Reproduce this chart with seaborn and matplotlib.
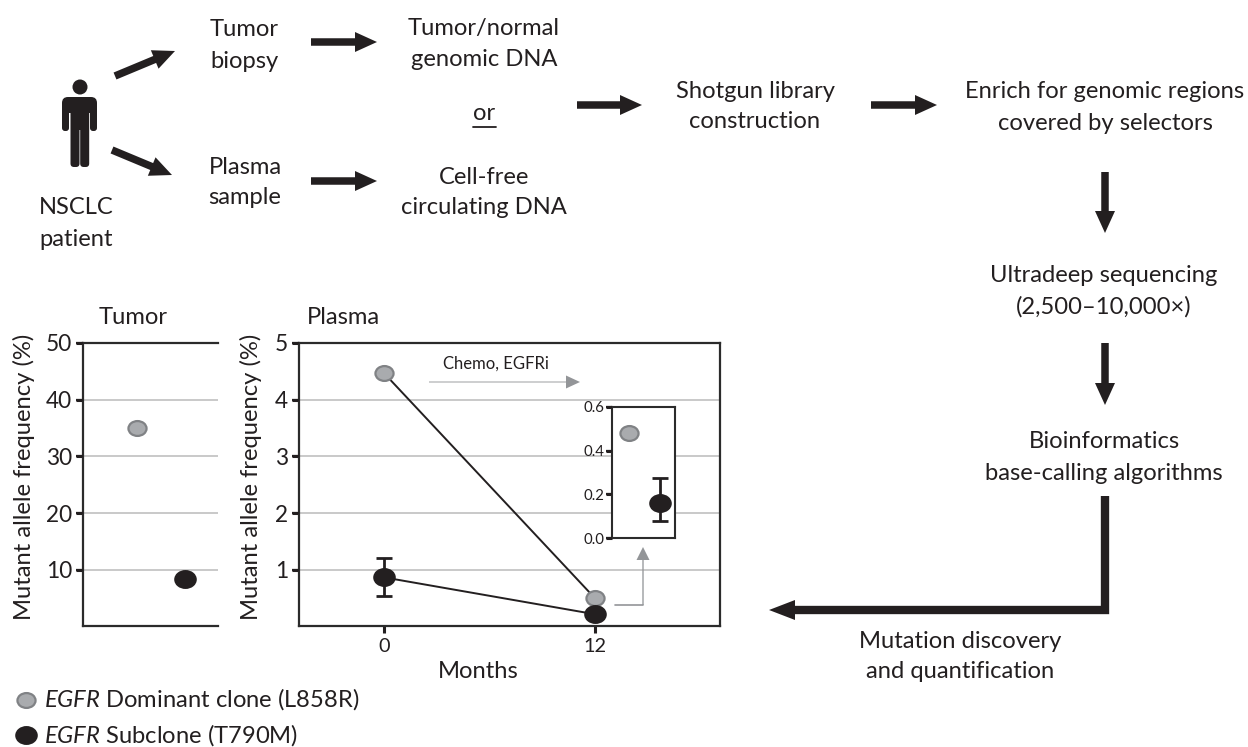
import matplotlib
matplotlib.use("Agg")
import matplotlib.pyplot as plt
import numpy as np
import pandas as pd
import seaborn as sns
from matplotlib.patches import Circle, FancyBboxPatch
from matplotlib.path import Path
from matplotlib.transforms import Affine2D

W, H = 1248, 747
DARK = "#231f20"
GREY_FILL = "#a9abae"
GREY_EDGE = "#808285"
GRID = "#c9c9c9"
ARROW_GREY = "#939598"

clones = ["Dominant", "Subclone"]

tumor_pos = [0, 1]
tumor_freq = [35.1, 8.4]

months = [0, 12]
plasma_dominant = [4.47, 0.5]
plasma_subclone = [0.87, 0.22]
plasma_sub_low = [0.55]
plasma_sub_high = [1.22]

inset_pos = [0, 1]
inset_freq = [0.48, 0.16]
inset_sub_low = [0.08]
inset_sub_high = [0.275]

sns.set_theme(style="ticks")
plt.rcParams["font.family"] = ["Lato", "DejaVu Sans"]
plt.rcParams["mathtext.fontset"] = "custom"
plt.rcParams["mathtext.it"] = "Lato:italic"
plt.rcParams["mathtext.rm"] = "Lato"
plt.rcParams["text.color"] = DARK
plt.rcParams["axes.labelcolor"] = DARK
plt.rcParams["xtick.color"] = DARK
plt.rcParams["ytick.color"] = DARK

FS = 17.1
TICK_FS = 16.3
ELLIPSE = Path.unit_circle().transformed(Affine2D().scale(1.0, 0.82))


def px_axes(fig, left, top, right, bottom):
    return fig.add_axes([left / W, 1 - bottom / H, (right - left) / W, (bottom - top) / H])


def dots(ax, x, y, color, edge, size):
    df = pd.DataFrame({"x": x, "y": y})
    sns.scatterplot(data=df, x="x", y="y", ax=ax, color=color, edgecolor=edge,
                    linewidth=1.6, s=size, marker=ELLIPSE, zorder=5, legend=False, clip_on=False)


def style_axes(ax, lw=1.6, ticklen=5, fontsize=TICK_FS):
    for s in ax.spines.values():
        s.set_color("#2b2b2b")
        s.set_linewidth(lw)
    ax.tick_params(axis="both", length=ticklen, width=2.2, labelsize=fontsize, pad=3, color=DARK)
    ax.set_xlabel("")


def left_ticks(ax, px):
    # tick stubs on the left spine, tied to the axis' own y scale
    frac = px / (ax.get_position().width * W)
    for v in ax.get_yticks():
        ax.plot([-frac, 0], [v, v], transform=ax.get_yaxis_transform(), color=DARK,
                lw=1.6, clip_on=False, zorder=6, solid_capstyle="butt")


fig = plt.figure(figsize=(W / 100, H / 100), dpi=100)

# tumor panel
ax1 = px_axes(fig, 83, 343, 218, 626)
ax1.set_xlim(-1.125, 1.69)
ax1.set_ylim(0.13, 50)
for v in [10, 20, 30, 40]:
    ax1.axhline(v, color=GRID, lw=1.4, zorder=1)
dots(ax1, tumor_pos[:1], tumor_freq[:1], GREY_FILL, GREY_EDGE, 170)
dots(ax1, tumor_pos[1:], tumor_freq[1:], DARK, DARK, 215)
ax1.set_yticks([10, 20, 30, 40, 50])
ax1.set_xticks([])
style_axes(ax1)
ax1.spines["right"].set_visible(False)
ax1.set_ylabel("Mutant allele frequency (%)", fontsize=FS)
ax1.yaxis.set_label_coords(-0.355, 0.527)
left_ticks(ax1, 7)

# plasma panel
ax2 = px_axes(fig, 299, 343, 720, 626)
ax2.set_xlim(-4.83, 19.1)
ax2.set_ylim(0.013, 5)
for v in [1, 2, 3, 4]:
    ax2.axhline(v, color=GRID, lw=1.4, zorder=1)
plasma = pd.DataFrame({"month": months * 2,
                       "freq": plasma_dominant + plasma_subclone,
                       "clone": np.repeat(clones, 2)})
sns.lineplot(data=plasma, x="month", y="freq", units="clone", estimator=None,
             color=DARK, lw=1.4, ax=ax2, zorder=3, legend=False)
ax2.errorbar(months[:1], plasma_subclone[:1],
             yerr=[[plasma_subclone[0] - plasma_sub_low[0]], [plasma_sub_high[0] - plasma_subclone[0]]],
             color=DARK, lw=2, capsize=5.5, capthick=2, zorder=4, fmt="none")
dots(ax2, months, plasma_dominant, GREY_FILL, GREY_EDGE, 170)
dots(ax2, months, plasma_subclone, DARK, DARK, 215)
ax2.set_yticks([1, 2, 3, 4, 5])
ax2.set_xticks(months)
style_axes(ax2)
ax2.tick_params(axis="x", labelsize=14.3, pad=4, length=5)
ax2.set_ylabel("Mutant allele frequency (%)", fontsize=FS)
ax2.yaxis.set_label_coords(-0.088, 0.527)
left_ticks(ax2, 7)

# overlay in pixel coordinates for the flow chart
ov = fig.add_axes([0, 0, 1, 1], zorder=10)
ov.set_xlim(0, W)
ov.set_ylim(H, 0)
ov.axis("off")
ov.patch.set_alpha(0)


def arrow(x0, y0, x1, y1, width=7.5, hw=20, hl=22, color="#231f20"):
    ov.arrow(x0, y0, x1 - x0, y1 - y0, width=width, head_width=hw, head_length=hl,
             length_includes_head=True, color=color, lw=0)


labels = [
    (244, 29, "Tumor"), (244, 61, "biopsy"),
    (245, 168, "Plasma"), (245, 198, "sample"),
    (76, 208, "NSCLC"), (76, 239, "patient"),
    (484, 29, "Tumor/normal"), (484, 59, "genomic DNA"),
    (484, 114, "or"),
    (484, 177, "Cell-free"), (484, 207, "circulating DNA"),
    (755, 91, "Shotgun library"), (755, 121, "construction"),
    (1105, 92, "Enrich for genomic regions"), (1105, 123, "covered by selectors"),
    (1104, 276, "Ultradeep sequencing"), (1104, 307, "(2,500\u201310,000\u00d7)"),
    (1104, 442, "Bioinformatics"), (1104, 474, "base-calling algorithms"),
    (960, 641, "Mutation discovery"), (960, 671, "and quantification"),
    (133, 317, "Tumor"), (343, 317, "Plasma"),
    (478, 671, "Months"),
]
for x, y, s in labels:
    ov.text(x, y, s, ha="center", va="center", fontsize=FS)
ov.plot([473, 496], [127, 127], color=DARK, lw=1.3)

ov.text(44, 699, r"$\mathit{EGFR}$ Dominant clone (L858R)", ha="left", va="center", fontsize=FS)
ov.text(44, 735, r"$\mathit{EGFR}$ Subclone (T790M)", ha="left", va="center", fontsize=FS)
ov.scatter([26], [700], marker=ELLIPSE, s=170, color=GREY_FILL, edgecolor=GREY_EDGE, linewidth=1.6)
ov.scatter([26], [735], marker=ELLIPSE, s=215, color=DARK, edgecolor=DARK, linewidth=1.6)

arrow(115, 76, 175, 51)
arrow(112, 150, 172, 175)
arrow(311, 42, 377, 42)
arrow(311, 181, 377, 181)
arrow(577, 105, 642, 105)
arrow(871, 105, 937, 105)
arrow(1105, 172, 1105, 233)
arrow(1105, 343, 1105, 405)
ov.plot([1105, 1105, 790], [496, 610, 610], color=DARK, lw=6, solid_joinstyle="miter", solid_capstyle="butt")
arrow(795, 610, 769, 610, width=8, hw=20, hl=26)

# grey annotation arrows
ov.text(496, 364, "Chemo, EGFRi", ha="center", va="center", fontsize=12)
arrow(429, 382, 580, 382, width=0.9, hw=13, hl=14, color=ARROW_GREY)
ov.plot([615, 643], [605, 605], color=ARROW_GREY, lw=1.2)
arrow(643, 605, 643, 547, width=1.3, hw=13, hl=13, color=ARROW_GREY)

# person icon
ov.add_patch(Circle((80, 87), 7.5, color=DARK, lw=0))
ov.add_patch(FancyBboxPatch((62, 97), 35, 16, boxstyle="round,pad=0,rounding_size=6", color=DARK, lw=0))
ov.add_patch(FancyBboxPatch((62, 103), 7, 28, boxstyle="round,pad=0,rounding_size=3", color=DARK, lw=0))
ov.add_patch(FancyBboxPatch((90, 103), 7, 28, boxstyle="round,pad=0,rounding_size=3", color=DARK, lw=0))
ov.add_patch(FancyBboxPatch((70.5, 103), 9, 64, boxstyle="round,pad=0,rounding_size=3.5", color=DARK, lw=0))
ov.add_patch(FancyBboxPatch((80.2, 103), 9, 64, boxstyle="round,pad=0,rounding_size=3.5", color=DARK, lw=0))
ov.add_patch(FancyBboxPatch((71, 100), 18, 30, boxstyle="round,pad=0,rounding_size=1", color=DARK, lw=0))

# inset panel
ax3 = px_axes(fig, 612, 407, 675, 538)
ax3.set_zorder(11)
ax3.set_facecolor("white")
ax3.set_xlim(-0.55, 1.48)
ax3.set_ylim(0, 0.6)
ax3.errorbar(inset_pos[1:], inset_freq[1:],
             yerr=[[inset_freq[1] - inset_sub_low[0]], [inset_sub_high[0] - inset_freq[1]]],
             color=DARK, lw=2, capsize=5.5, capthick=2, zorder=4, fmt="none")
dots(ax3, inset_pos[:1], inset_freq[:1], GREY_FILL, GREY_EDGE, 170)
dots(ax3, inset_pos[1:], inset_freq[1:], DARK, DARK, 215)
ax3.set_yticks([0, 0.2, 0.4, 0.6])
ax3.set_yticklabels(["0.0", "0.2", "0.4", "0.6"])
ax3.set_xticks([])
style_axes(ax3, lw=1.5, ticklen=4, fontsize=10.8)
ax3.tick_params(axis="y", pad=1.5)
ax3.set_ylabel("")
left_ticks(ax3, 6)

fig.savefig("out.png", dpi=100)
